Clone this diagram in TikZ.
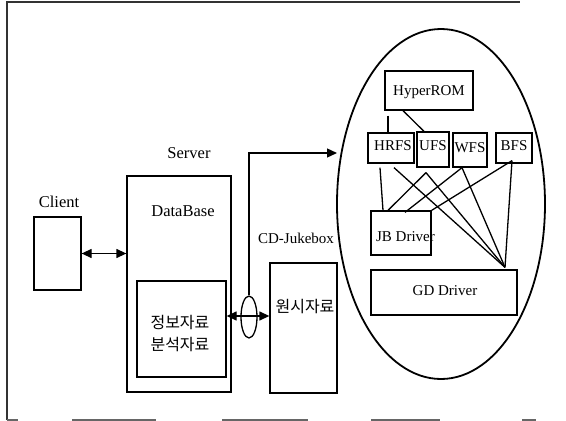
\documentclass[tikz,border=0pt]{standalone}
\usepackage{fontspec}
\setmainfont{Liberation Serif}
\newfontfamily\krfont{Noto Sans CJK KR}
\usetikzlibrary{arrows.meta,shapes.geometric}
\begin{document}
\begin{tikzpicture}[x=1pt,y=-1pt,line width=1.3pt,
  box/.style={draw,rectangle,inner sep=0pt},
  lbl/.style={font=\fontsize{16.5}{18}\selectfont,inner sep=0pt},
  small/.style={font=\fontsize{15}{17}\selectfont,inner sep=0pt},
  kr/.style={font=\krfont\fontsize{16}{22}\selectfont,inner sep=0pt,align=center},
  arr/.style={-{Triangle[length=10pt,width=9pt]}},
  biarr/.style={{Triangle[length=10pt,width=9pt]}-{Triangle[length=10pt,width=9pt]}},
  frameline/.style={line width=1.1pt,black!80}]
\useasboundingbox (0,0) rectangle (566,421);

% page frame
\draw[frameline] (7,420) -- (7,2) -- (520,2);
\foreach \a/\b in {7/18,72/156,222/308,371/440,522/536}
  \draw[frameline,black!60] (\a,420) -- (\b,420);

% client and server side
\node[box,minimum width=47pt,minimum height=73pt] (client) at (57.5,253.5) {};
\node[lbl] (clientlbl) at (59,202) {Client};
\node[box,minimum width=104pt,minimum height=216pt] (server) at (179,284) {};
\node[lbl] (serverlbl) at (189,153) {Server};
\node[lbl] (dblbl) at (183,211) {DataBase};
\node[box,minimum width=89pt,minimum height=96pt] (inner) at (181.5,329) {};
\node[kr] (innerlbl) at (180,334) {정보자료\\분석자료};

% jukebox
\node[box,minimum width=67pt,minimum height=130pt] (cd) at (303.5,328) {};
\node[small] (cdlbl) at (296,238) {CD-Jukebox};
\node[kr] (cdtext) at (305,307) {원시자료};

% connectors between server, client and jukebox
\draw[biarr] (client.east) -- (server.west |- client.east);
\coordinate (link) at (0,316);
\draw[biarr] (inner.east |- link) -- (cd.west |- link);
\node[draw,ellipse,minimum width=16pt,minimum height=42pt,inner sep=0pt] (ring) at (249,317) {};

% file system ellipse
\node[draw,ellipse,minimum width=208pt,minimum height=350pt,line width=1.8pt] (fsys) at (441,204) {};
\coordinate (fsin) at (337,153);
\draw[arr] (ring.north) |- (fsin);

\node[box,minimum width=88pt,minimum height=39pt] (hyper) at (429,90.5) {};
\node[small] at (429,92) {HyperROM};
\node[box,minimum width=46pt,minimum height=30pt] (hrfs) at (391,148) {};
\node[small] at (393,146) {HRFS};
\node[box,minimum width=32pt,minimum height=35pt] (ufs) at (433,149.5) {};
\node[small] at (433,146) {UFS};
\node[box,minimum width=34pt,minimum height=34pt] (wfs) at (470,150) {};
\node[small] at (470,148) {WFS};
\node[box,minimum width=36pt,minimum height=30pt] (bfs) at (514,148) {};
\node[small] at (514,146) {BFS};
\node[box,minimum width=60pt,minimum height=44pt] (jb) at (401,233) {};
\node[small] at (405.5,237) {JB Driver};
\node[box,minimum width=146pt,minimum height=45pt] (gd) at (444,292.5) {};
\node[small] at (445,291) {GD Driver};

% links inside the file system
\draw[shorten <=5pt] ([xshift=-41pt]hyper.south) -- ([xshift=-3pt]hrfs.north);
\draw ([xshift=-26pt]hyper.south) -- ([xshift=-9pt]ufs.north);
\coordinate (gdtip) at ([xshift=61pt,yshift=2pt]gd.north);
\draw ([xshift=-11pt,yshift=-4pt]hrfs.south) -- ([xshift=-18pt]jb.north);
\draw ([xshift=3pt,yshift=-4pt]hrfs.south) -- (gdtip);
\draw ([xshift=-7pt,yshift=-5pt]ufs.south) -- ([xshift=-13pt]jb.north);
\draw ([xshift=-7pt,yshift=-5pt]ufs.south) -- (gdtip);
\draw ([xshift=-8pt]wfs.south) -- ([xshift=4pt,yshift=-2pt]jb.north);
\draw ([xshift=-8pt]wfs.south) -- (gdtip);
\draw ([xshift=-2pt,yshift=3pt]bfs.south) -- (jb.north east);
\draw ([xshift=-2pt,yshift=3pt]bfs.south) -- (gdtip);
\end{tikzpicture}
\end{document}
